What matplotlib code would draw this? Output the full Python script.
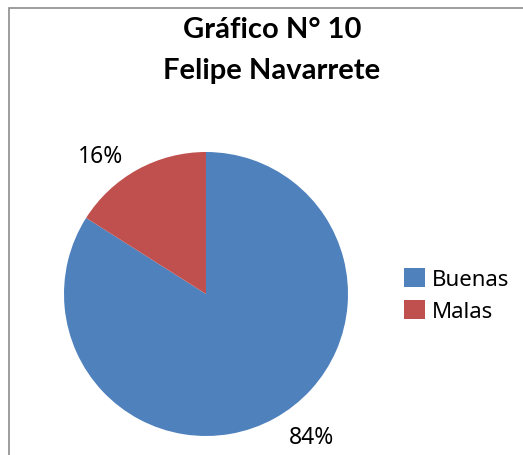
import matplotlib
matplotlib.use('Agg')
import matplotlib.pyplot as plt
import matplotlib.patches as mpatches

# ── Data ──
categories = ['Buenas', 'Malas']
shares = [84, 16]
colors = ['#4F81BD', '#C0504D']
title_lines = ['Gráfico N° 10', 'Felipe Navarrete']

plt.rcParams['font.family'] = ['Noto Sans', 'DejaVu Sans']

W, H = 523, 456
fig = plt.figure(figsize=(W / 100, H / 100), dpi=100)
fig.patch.set_facecolor('white')

# outer chart border (cut off at right and bottom)
fig.add_artist(mpatches.Rectangle((9 / W, -0.1), 1.2, 1 - 9 / H + 0.1,
                                  transform=fig.transFigure, fill=False,
                                  edgecolor='#8c8c8c', linewidth=1.2))

# title
for txt, ypx in zip(title_lines, [30, 71]):
    fig.text(272 / W, 1 - ypx / H, txt, ha='center', va='center',
             fontsize=21, fontweight='bold', color='black',
             family=['Lato', 'DejaVu Sans'])

# pie: centre (206, 295), radius 142 px
cx, cy, r = 206, 295, 142
ax = fig.add_axes([(cx - r) / W, (H - cy - r) / H, 2 * r / W, 2 * r / H])
wedges, _ = ax.pie(shares, colors=colors, startangle=90, counterclock=False,
                   radius=1, wedgeprops=dict(linewidth=0))
ax.set_xlim(-1, 1)
ax.set_ylim(-1, 1)
ax.axis('off')

# percentage labels (Excel best-fit positions)
label_pos = [(0.74, -1.01), (-0.74, 0.97)]
for val, (lx, ly) in zip(shares, label_pos):
    ax.text(lx, ly, f'{val}%', ha='center', va='center', fontsize=16.5,
            color='black', clip_on=False)

# legend
handles = [mpatches.Patch(facecolor=c, edgecolor='none', label=lab)
           for c, lab in zip(colors, categories)]
fig.legend(handles=handles, loc='center left', frameon=False,
           bbox_to_anchor=(384 / W, 1 - 296 / H), fontsize=16,
           handlelength=0.95, handleheight=0.95, handletextpad=0.3,
           labelspacing=0.42)

fig.savefig('out.png', dpi=100, facecolor='white')
plt.close(fig)
